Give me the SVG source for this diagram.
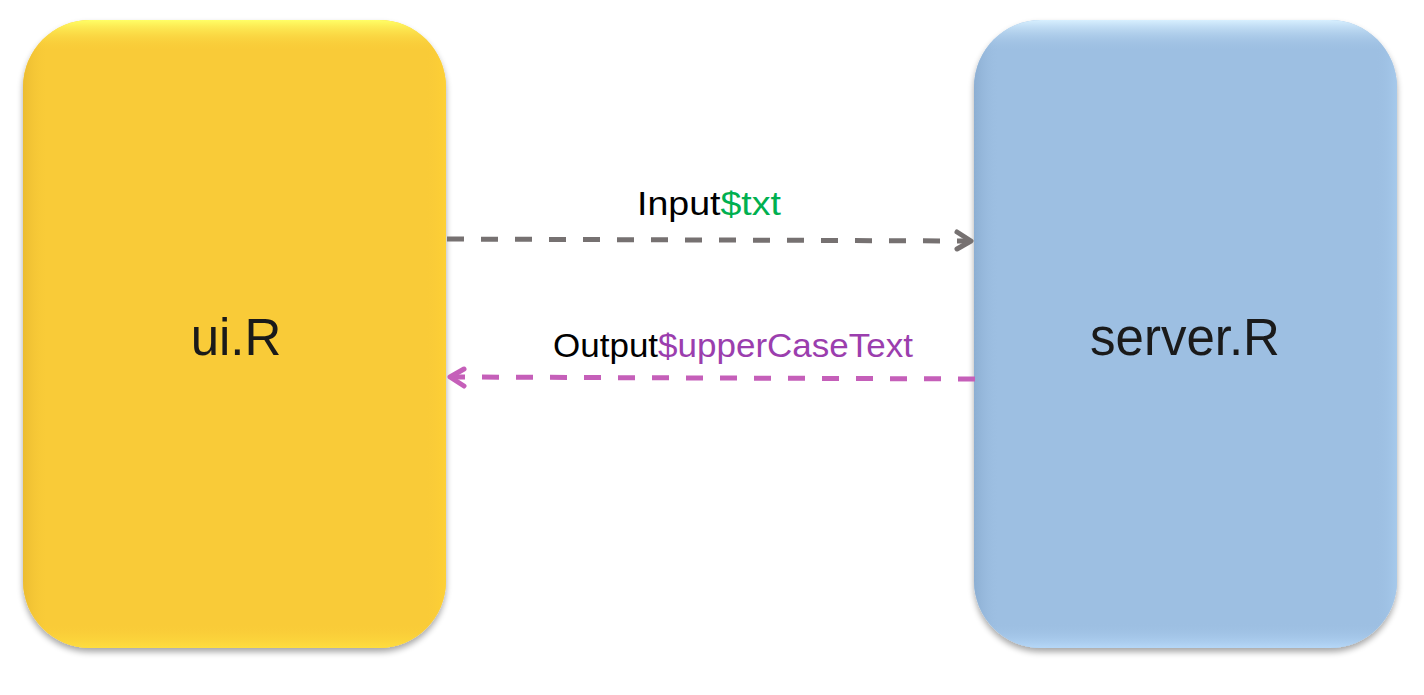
<svg xmlns="http://www.w3.org/2000/svg" width="1424" height="695" viewBox="0 0 1424 695">
<style>
.lbl{font-family:"Liberation Sans",Arial,sans-serif;}
.big{font-size:51px;fill:#1a1a1a;}
.small{font-size:33px;}
.conn{fill:none;stroke-width:5;stroke-dasharray:17 17;}
</style>
<defs>
<filter id="sh" x="-10%" y="-10%" width="120%" height="125%">
<feGaussianBlur in="SourceAlpha" stdDeviation="3"/>
<feOffset dx="0" dy="4" result="b"/>
<feComponentTransfer><feFuncA type="linear" slope="0.35"/></feComponentTransfer>
<feMerge><feMergeNode/><feMergeNode in="SourceGraphic"/></feMerge>
</filter>
<linearGradient id="ytop" x1="0" y1="0" x2="0" y2="1">
<stop offset="0" stop-color="#FFFF66" stop-opacity="1"/>
<stop offset="0.05" stop-color="#F9CB37" stop-opacity="0"/>
<stop offset="0.96" stop-color="#F9CB37" stop-opacity="0"/>
<stop offset="1" stop-color="#FFE040" stop-opacity="0.9"/>
</linearGradient>
<linearGradient id="yside" x1="0" y1="0" x2="1" y2="0">
<stop offset="0" stop-color="#E8B830" stop-opacity="0.8"/>
<stop offset="0.06" stop-color="#F9CB37" stop-opacity="0"/>
<stop offset="0.95" stop-color="#F9CB37" stop-opacity="0"/>
<stop offset="1" stop-color="#FFD235" stop-opacity="0.8"/>
</linearGradient>
<linearGradient id="btop" x1="0" y1="0" x2="0" y2="1">
<stop offset="0" stop-color="#D8F0FF" stop-opacity="1"/>
<stop offset="0.05" stop-color="#9DBFE2" stop-opacity="0"/>
<stop offset="0.96" stop-color="#9DBFE2" stop-opacity="0"/>
<stop offset="1" stop-color="#B8DAFA" stop-opacity="0.9"/>
</linearGradient>
<linearGradient id="bside" x1="0" y1="0" x2="1" y2="0">
<stop offset="0" stop-color="#88AACE" stop-opacity="0.8"/>
<stop offset="0.06" stop-color="#9DBFE2" stop-opacity="0"/>
<stop offset="0.95" stop-color="#9DBFE2" stop-opacity="0"/>
<stop offset="1" stop-color="#A8CCEE" stop-opacity="0.8"/>
</linearGradient>
</defs>

<g id="node-ui">
<rect x="23" y="20" width="423" height="628" rx="67" ry="67" fill="#F9CB37" filter="url(#sh)"/>
<rect x="23" y="20" width="423" height="628" rx="67" ry="67" fill="url(#yside)"/>
<rect x="23" y="20" width="423" height="628" rx="67" ry="67" fill="url(#ytop)"/>
<text class="lbl big" x="236" y="355" text-anchor="middle">ui.R</text>
</g>

<g id="node-server">
<rect x="974" y="20" width="423" height="628" rx="67" ry="67" fill="#9DBFE2" filter="url(#sh)"/>
<rect x="974" y="20" width="423" height="628" rx="67" ry="67" fill="url(#bside)"/>
<rect x="974" y="20" width="423" height="628" rx="67" ry="67" fill="url(#btop)"/>
<text class="lbl big" x="1185" y="355" text-anchor="middle">server.R</text>
</g>

<g id="connectors">
<line class="conn" x1="447" y1="239" x2="968" y2="241" stroke="#767171"/>
<polyline points="957,232 971,241 957,249" fill="none" stroke="#767171" stroke-width="5" stroke-linecap="round" stroke-linejoin="round"/>
<line class="conn" x1="975" y1="379" x2="452" y2="377" stroke="#C55FB9"/>
<polyline points="464,369 450,377 464,386" fill="none" stroke="#C55FB9" stroke-width="5" stroke-linecap="round" stroke-linejoin="round"/>
<text class="lbl small" x="709" y="215" text-anchor="middle" textLength="144" lengthAdjust="spacingAndGlyphs"><tspan fill="#000">Input</tspan><tspan fill="#00B050">$txt</tspan></text>
<text class="lbl small" x="733" y="357" text-anchor="middle" textLength="360" lengthAdjust="spacingAndGlyphs"><tspan fill="#000">Output</tspan><tspan fill="#9B3EAE">$upperCaseText</tspan></text>
</g>
</svg>
